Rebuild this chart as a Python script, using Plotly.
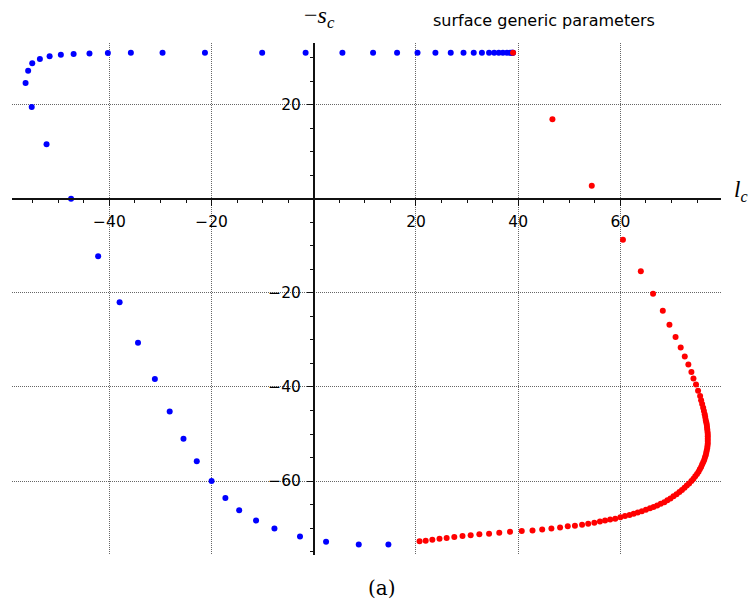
import plotly.graph_objects as go

# ---- data ----
blue_x = [39.0, 38.85, 38.7, 38.4, 37.8, 37.0, 36.2, 35.3, 34.3, 32.9, 31.3, 29.3, 26.8, 23.8,
          20.3, 16.3, 11.6, 5.6, -1.6, -10.1, -21.3, -29.6, -35.8, -40.3, -43.9, -47.0, -49.5,
          -51.7, -53.6, -55.1, -55.9, -56.4, -55.2, -52.3, -47.5, -42.2, -38.0, -34.4, -31.1,
          -28.2, -25.5, -22.9, -20.0, -17.3, -14.6, -11.3, -7.7, -2.7, 2.4, 8.8, 14.6]
blue_y = [31.05, 31.05, 31.05, 31.05, 31.05, 31.05, 31.05, 31.05, 31.05, 31.05, 31.05, 31.05,
          31.05, 31.05, 31.05, 31.05, 31.05, 31.05, 31.05, 31.05, 31.05, 31.05, 31.05, 31.0,
          30.9, 30.8, 30.6, 30.3, 29.7, 28.8, 27.2, 24.6, 19.5, 11.6, 0.0, -12.2, -22.0, -30.6,
          -38.3, -45.2, -51.0, -55.8, -60.0, -63.6, -66.2, -68.4, -70.1, -71.8, -72.9, -73.5, -73.5]

# lower branch (sparse), then dense turn, then upper branch
red_x = [20.7, 21.9, 23.2, 24.6, 26.0, 27.5, 29.1, 30.7, 32.4, 34.3, 36.3, 38.4, 40.7, 42.8,
         44.7, 46.5, 48.2, 49.7, 51.1, 52.5, 53.7, 54.9, 56.0, 57.0, 58.0, 59.0,
         60.0, 60.9, 61.8, 62.6, 63.4, 64.2, 65.0, 65.8, 66.5, 67.2, 67.9, 68.6,
         69.2, 69.8, 70.4, 71.0, 71.55, 72.05, 72.55, 73.0, 73.45, 73.9, 74.3, 74.65,
         75.0, 75.3, 75.55, 75.8, 76.0, 76.2, 76.4, 76.55, 76.7, 76.8, 76.9, 77.0,
         77.05, 77.1, 77.1, 77.1, 77.1, 77.1, 77.05, 77.0, 76.95, 76.9, 76.8, 76.7,
         76.6, 76.5, 76.35, 76.2, 76.0, 75.8,
         75.6, 75.2, 74.8, 74.3, 73.9, 73.3, 72.6, 71.8, 70.8, 69.6, 68.3, 66.4, 64.0, 60.5,
         54.4, 46.7, 39.0]
red_y = [-72.8, -72.7, -72.5, -72.25, -72.1, -71.9, -71.7, -71.5, -71.3, -71.2, -71.0, -70.8,
         -70.6, -70.5, -70.3, -70.1, -69.85, -69.6, -69.5, -69.3, -69.1, -68.85, -68.6, -68.4,
         -68.2, -68.0,
         -67.7, -67.45, -67.2, -66.95, -66.7, -66.4, -66.1, -65.8, -65.5, -65.2, -64.85, -64.5,
         -64.1, -63.7, -63.25, -62.8, -62.35, -61.9, -61.4, -60.95, -60.5, -60.0, -59.5, -59.0,
         -58.5, -58.0, -57.5, -57.0, -56.5, -56.0, -55.5, -55.0, -54.5, -54.0, -53.5, -53.0,
         -52.5, -52.0, -51.5, -51.0, -50.5, -50.0, -49.5, -49.0, -48.5, -48.0, -47.5, -47.0,
         -46.4, -45.8, -45.1, -44.4, -43.6, -42.8,
         -41.9, -40.8, -39.5, -38.2, -36.8, -35.2, -33.5, -31.6, -29.4, -26.8, -23.8, -20.2,
         -15.4, -8.7, 2.76, 16.9, 31.05]

x_ticks = [-40, -20, 20, 40, 60]
x_tick_text = ["\u221240", "\u221220", "20", "40", "60"]
y_ticks = [-60, -40, -20, 20]
y_tick_text = ["\u221260", "\u221240", "\u221220", "20"]

title_text = "surface generic parameters"
x_label = "<i>l<sub>c</sub></i>"
y_label = "\u2212<i>s<sub>c</sub></i>"
caption = "(a)"

# ---- layout geometry ----
W, H = 755, 607
L, R, T, B = 12, 34, 43, 52
x_range = [-59.06, 79.69]
y_range = [-75.72, 33.12]
x_pos = (0 - y_range[0]) / (y_range[1] - y_range[0])
y_pos = (0 - x_range[0]) / (x_range[1] - x_range[0])


def px(xp, yp):
    return (xp - L) / (W - L - R), (H - B - yp) / (H - T - B)


fig = go.Figure()
fig.add_trace(go.Scatter(x=blue_x, y=blue_y, mode="markers",
                         marker=dict(color="#0000ff", size=6, line=dict(width=0)),
                         showlegend=False, hoverinfo="skip"))
fig.add_trace(go.Scatter(x=red_x, y=red_y, mode="markers",
                         marker=dict(color="#ff0000", size=6, line=dict(width=0)),
                         showlegend=False, hoverinfo="skip"))

axis_common = dict(
    showgrid=True, gridcolor="#666666", griddash="1px,1px", gridwidth=1,
    zeroline=False, showline=True, linecolor="#111", linewidth=1.5,
    ticks="outside", ticklen=6, tickwidth=1, tickcolor="#111",
    tickfont=dict(family="DejaVu Sans", size=15.5, color="black"),
    minor=dict(dtick=5, ticks="outside", ticklen=3.5, tickwidth=1, tickcolor="#111", showgrid=False),
    anchor="free", ticklabelstandoff=3,
)

fig.update_layout(
    width=W, height=H,
    margin=dict(l=L, r=R, t=T, b=B),
    paper_bgcolor="white", plot_bgcolor="white",
    xaxis=dict(range=x_range, tickvals=x_ticks, ticktext=x_tick_text,
               position=x_pos, **axis_common),
    yaxis=dict(range=y_range, tickvals=y_ticks, ticktext=y_tick_text,
               position=y_pos, **axis_common),
)

anns = [
    (title_text, 544, 20, "middle", dict(family="DejaVu Sans", size=16, color="black")),
    (y_label, 319, 0, "top", dict(family="Liberation Serif", size=24, color="black")),
    (x_label, 741, 191, "middle", dict(family="Liberation Serif", size=23, color="black")),
    (caption, 382, 588, "middle", dict(family="DejaVu Serif", size=20, color="black")),
]
for text, xp, yp, yanc, font in anns:
    ax, ay = px(xp, yp)
    fig.add_annotation(text=text, x=ax, y=ay, xref="paper", yref="paper",
                       showarrow=False, xanchor="center", yanchor=yanc, font=font)

fig.write_html("out.html")
